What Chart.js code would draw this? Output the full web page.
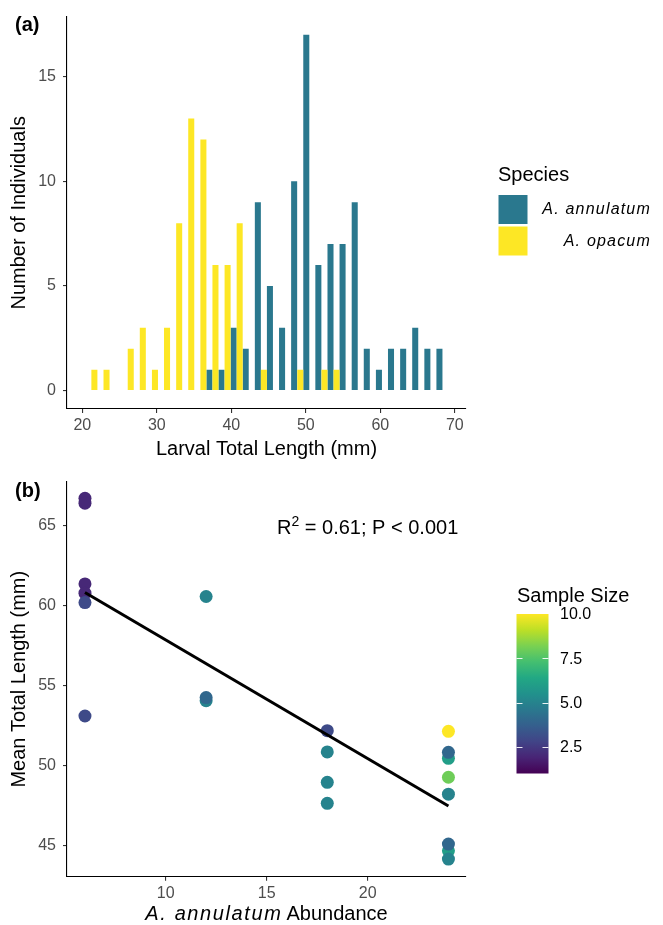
<!DOCTYPE html>
<html>
<head>
<meta charset="utf-8">
<script src="https://cdn.jsdelivr.net/npm/chart.js@4.4.1/dist/chart.umd.min.js"></script>
<style>
  html, body { margin: 0; padding: 0; background: #fff; }
  #wrap { position: relative; width: 663px; height: 925px; }
  canvas { position: absolute; left: 0; }
  #histChart { top: 0; }
  #abundChart { top: 465px; }
</style>
</head>
<body>
<div id="wrap">
  <canvas id="histChart" width="663" height="465"></canvas>
  <canvas id="abundChart" width="663" height="460"></canvas>
</div>
<script>
const FONT = '"Liberation Sans", Arial, Helvetica, sans-serif';

// (a) histogram: bin centres (mm) and counts per species
const binCenters = [22.03, 23.66, 25.28, 26.91, 28.53, 30.16, 31.78, 33.41, 35.03, 36.66,
                    38.28, 39.91, 41.53, 43.16, 44.78, 46.41, 48.03, 49.66, 51.28, 52.91,
                    54.53, 56.16, 57.78, 59.41, 61.03, 62.66, 64.28, 65.91, 67.53];
const countsOpacum    = [1, 1, 0, 2, 3, 1, 3, 8, 13, 12, 6, 6, 8, 0, 1, 0, 0, 1, 0, 1, 1, 0, 0, 0, 0, 0, 0, 0, 0];
const countsAnnulatum = [0, 0, 0, 0, 0, 0, 0, 0, 0, 1, 1, 3, 2, 9, 5, 3, 10, 17, 6, 7, 7, 9, 2, 1, 2, 2, 3, 2, 2];
const speciesNames  = ['A. annulatum', 'A. opacum'];
const speciesColors = ['#2A788E', '#FDE725'];
const lengthTicks = [20, 30, 40, 50, 60, 70];
const countTicks  = [0, 5, 10, 15];

// (b) mean length by A. annulatum abundance, coloured by sample size
const abundance  = [6, 6, 6, 6, 6, 6, 12, 12, 12, 18, 18, 18, 18, 24, 24, 24, 24, 24, 24, 24, 24];
const meanLength = [66.70, 66.40, 61.35, 60.77, 60.18, 53.09,
                    60.56, 54.05, 54.24,
                    52.17, 50.84, 48.94, 47.63,
                    52.13, 50.44, 50.82, 49.26, 48.20, 44.66, 44.14, 45.08];
const sampleSize = [2, 2, 2, 2, 3, 3, 5, 5, 4, 3, 5, 5, 5, 10, 6, 4, 8, 5, 6, 5, 4];
const fitAbundance = [6, 24];
const fitLength    = [60.81, 47.46];
const abundTicks = [10, 15, 20];
const meanTicks  = [45, 50, 55, 60, 65];
const sizeTicks  = [2.5, 5, 7.5, 10];
const sizeRange  = [1, 10];

// viridis palette
const viridisStops = ['#440154', '#482475', '#414487', '#355f8d', '#2a788e', '#21918c',
                      '#22a884', '#44bf70', '#7ad151', '#bddf26', '#fde725'];
function hexToRgb(h) {
  return [parseInt(h.slice(1, 3), 16), parseInt(h.slice(3, 5), 16), parseInt(h.slice(5, 7), 16)];
}
function viridis(t) {
  t = Math.max(0, Math.min(1, t));
  const pos = t * (viridisStops.length - 1);
  const i = Math.min(Math.floor(pos), viridisStops.length - 2);
  const f = pos - i;
  const a = hexToRgb(viridisStops[i]), b = hexToRgb(viridisStops[i + 1]);
  const c = a.map((v, k) => Math.round(v + (b[k] - v) * f));
  return `rgb(${c[0]},${c[1]},${c[2]})`;
}
const sizeToT = s => (s - sizeRange[0]) / (sizeRange[1] - sizeRange[0]);

Chart.defaults.font.family = FONT;
Chart.defaults.animation = false;

// shared axis styling (ggplot classic look)
function axisStyle(tickList, fitSize, isX) {
  return {
    type: 'linear',
    grid: { drawOnChartArea: false, drawTicks: true, tickLength: 4, color: '#333', lineWidth: 1.1, offset: false },
    border: { display: true, color: '#000', width: 1.1 },
    ticks: { color: '#4D4D4D', font: { size: 16 }, padding: isX ? 3 : 7 },
    afterBuildTicks: s => { s.ticks = tickList.map(v => ({ value: v })); },
    afterFit: s => { if (isX) s.height = fitSize; else s.width = fitSize; }
  };
}

// panel tag, e.g. (a)
const panelTag = {
  id: 'panelTag',
  afterDraw(chart, args, opts) {
    const ctx = chart.ctx;
    ctx.save();
    ctx.font = 'bold 20px ' + FONT;
    ctx.fillStyle = '#000';
    ctx.textAlign = 'left';
    ctx.textBaseline = 'alphabetic';
    ctx.fillText(opts.text, opts.x, opts.y);
    ctx.restore();
  }
};

// species legend for the histogram
const speciesLegend = {
  id: 'speciesLegend',
  afterDraw(chart) {
    const ctx = chart.ctx;
    ctx.save();
    ctx.fillStyle = '#000';
    ctx.textAlign = 'left';
    ctx.textBaseline = 'alphabetic';
    ctx.font = '20px ' + FONT;
    ctx.fillText('Species', 498, 181);
    speciesNames.forEach((name, i) => {
      const top = 195 + i * 31.5;
      ctx.fillStyle = speciesColors[i];
      ctx.fillRect(498.5, top, 29, 29);
      ctx.fillStyle = '#000';
      ctx.font = 'italic 16px ' + FONT;
      ctx.letterSpacing = '1.2px';
      ctx.textAlign = 'right';
      ctx.textBaseline = 'middle';
      ctx.fillText(name, 651, top + 15);
    });
    ctx.restore();
  }
};

new Chart(document.getElementById('histChart'), {
  type: 'bar',
  data: {
    datasets: [
      {
        label: speciesNames[1],
        data: binCenters.map((x, i) => ({ x: x, y: countsOpacum[i] })),
        backgroundColor: speciesColors[1]
      },
      {
        label: speciesNames[0],
        data: binCenters.map((x, i) => ({ x: x, y: countsAnnulatum[i] })),
        backgroundColor: speciesColors[0]
      }
    ]
  },
  options: {
    responsive: false,
    devicePixelRatio: 1,
    layout: { padding: { top: 13, right: 197, left: 0, bottom: 0 } },
    datasets: { bar: { categoryPercentage: 1, barPercentage: 1, borderWidth: 0, inflateAmount: 0 } },
    scales: {
      x: Object.assign(axisStyle(lengthTicks, 56, true), {
        min: 17.95, max: 71.5, offset: false,
        title: { display: true, text: 'Larval Total Length (mm)', color: '#000',
                 font: { size: 20 }, padding: { top: 0, bottom: 4 } }
      }),
      y: Object.assign(axisStyle(countTicks, 67, false), {
        min: -0.88, max: 17.87,
        title: { display: true, text: 'Number of Individuals', color: '#000',
                 font: { size: 20 }, padding: { top: 7, bottom: 0 } }
      })
    },
    plugins: {
      legend: { display: false },
      tooltip: { enabled: false },
      panelTag: { text: '(a)', x: 15, y: 31 }
    }
  },
  plugins: [panelTag, speciesLegend]
});

// x title with the italic species name
const abundTitle = {
  id: 'abundTitle',
  afterDraw(chart) {
    const { ctx, chartArea } = chart;
    ctx.save();
    ctx.fillStyle = '#000';
    ctx.textAlign = 'left';
    ctx.textBaseline = 'alphabetic';
    ctx.font = 'italic 20px ' + FONT;
    ctx.letterSpacing = '1.6px';
    const w1 = ctx.measureText(speciesNames[0]).width;
    ctx.font = '20px ' + FONT;
    ctx.letterSpacing = '0px';
    const w2 = ctx.measureText('Abundance').width;
    const gap = 4;
    const x0 = (chartArea.left + chartArea.right) / 2 - (w1 + gap + w2) / 2;
    ctx.font = 'italic 20px ' + FONT;
    ctx.letterSpacing = '1.6px';
    ctx.fillText(speciesNames[0], x0, 455);
    ctx.font = '20px ' + FONT;
    ctx.letterSpacing = '0px';
    ctx.fillText('Abundance', x0 + w1 + gap, 455);
    ctx.restore();
  }
};

// regression statistics
const fitLabel = {
  id: 'fitLabel',
  afterDraw(chart) {
    const { ctx, scales } = chart;
    const cx = scales.x.getPixelForValue(20);
    const base = scales.y.getPixelForValue(65) + 8;
    ctx.save();
    ctx.fillStyle = '#000';
    ctx.textAlign = 'left';
    ctx.textBaseline = 'alphabetic';
    ctx.font = '20px ' + FONT;
    const wR = ctx.measureText('R').width;
    const rest = ' = 0.61; P < 0.001';
    const wRest = ctx.measureText(rest).width;
    ctx.font = '14px ' + FONT;
    const wSup = ctx.measureText('2').width;
    let x = cx - (wR + wSup + wRest) / 2;
    ctx.font = '20px ' + FONT;
    ctx.fillText('R', x, base);
    ctx.font = '14px ' + FONT;
    ctx.fillText('2', x + wR, base - 8);
    ctx.font = '20px ' + FONT;
    ctx.fillText(rest, x + wR + wSup, base);
    ctx.restore();
  }
};

// continuous colour bar for sample size
const sizeBar = {
  id: 'sizeBar',
  afterDraw(chart) {
    const ctx = chart.ctx;
    const left = 516.5, width = 32, top = 149, bottom = 308.5;
    const yOf = s => bottom - sizeToT(s) * (bottom - top);
    ctx.save();
    ctx.fillStyle = '#000';
    ctx.textAlign = 'left';
    ctx.textBaseline = 'alphabetic';
    ctx.font = '20px ' + FONT;
    ctx.fillText('Sample Size', 517, 136.5);
    const grad = ctx.createLinearGradient(0, bottom, 0, top);
    viridisStops.forEach((c, i) => grad.addColorStop(i / (viridisStops.length - 1), c));
    ctx.fillStyle = grad;
    ctx.fillRect(left, top, width, bottom - top);
    ctx.strokeStyle = 'rgba(255,255,255,0.9)';
    ctx.lineWidth = 1;
    ctx.font = '16px ' + FONT;
    ctx.textBaseline = 'middle';
    sizeTicks.forEach(s => {
      if (s < sizeRange[1]) {
        const y = Math.round(yOf(s)) + 0.5;
        ctx.beginPath();
        ctx.moveTo(left, y); ctx.lineTo(left + 6, y);
        ctx.moveTo(left + width - 6, y); ctx.lineTo(left + width, y);
        ctx.stroke();
      }
      ctx.fillStyle = '#000';
      ctx.fillText(s.toFixed(1), 560, yOf(s) + 1);
    });
    ctx.restore();
  }
};

new Chart(document.getElementById('abundChart'), {
  type: 'scatter',
  data: {
    datasets: [
      {
        label: 'fit',
        data: fitAbundance.map((x, i) => ({ x: x, y: fitLength[i] })),
        showLine: true,
        borderColor: '#000',
        borderWidth: 3,
        pointRadius: 0
      },
      {
        label: 'sites',
        data: abundance.map((x, i) => ({ x: x, y: meanLength[i] })),
        pointRadius: 6.5,
        pointBorderWidth: 0,
        pointBackgroundColor: sampleSize.map(s => viridis(sizeToT(s))),
        pointBorderColor: 'rgba(0,0,0,0)'
      }
    ]
  },
  options: {
    responsive: false,
    devicePixelRatio: 1,
    layout: { padding: { top: 16.7, right: 197, left: 0, bottom: 0 } },
    scales: {
      x: Object.assign(axisStyle(abundTicks, 48.3, true), {
        min: 5.11, max: 24.87,
        title: { display: false }
      }),
      y: Object.assign(axisStyle(meanTicks, 67, false), {
        min: 43.04, max: 67.74,
        title: { display: true, text: 'Mean Total Length (mm)', color: '#000',
                 font: { size: 20 }, padding: { top: 7, bottom: 0 } }
      })
    },
    plugins: {
      legend: { display: false },
      tooltip: { enabled: false },
      panelTag: { text: '(b)', x: 15, y: 32 }
    }
  },
  plugins: [panelTag, abundTitle, fitLabel, sizeBar]
});
</script>
</body>
</html>
